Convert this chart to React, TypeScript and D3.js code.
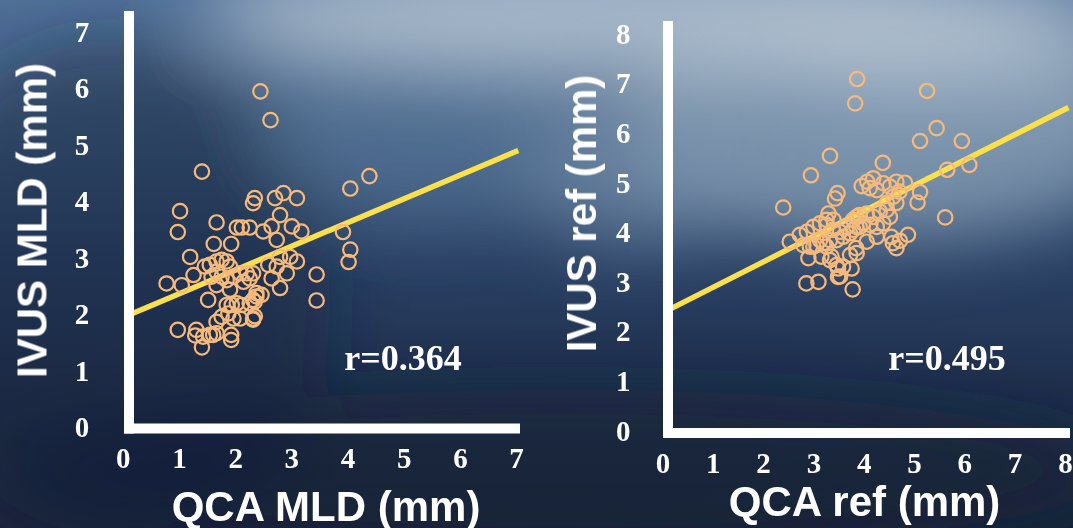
import React from "react";
import * as d3 from "d3";

const W = 1073;
const H = 528;

// left panel: QCA MLD vs IVUS MLD
const mldQca = [
  2.44, 2.62, 1.40, 4.38, 4.04, 1.01, 0.97, 3.91, 4.04, 4.01, 3.44, 3.44, 0.77, 0.97, 1.40,
  1.30, 1.28, 1.60, 1.92, 1.92, 2.31, 2.34, 1.66, 2.02, 2.11, 2.25, 2.31, 2.34, 2.49, 1.61,
  1.92, 1.19, 1.04, 1.25, 1.45, 1.54, 1.66, 1.75, 1.84, 1.90, 1.66, 1.75, 1.57, 1.66, 1.84,
  1.96, 2.08, 2.20, 2.25, 2.14, 1.90, 1.51, 1.84, 1.93, 2.02, 2.11, 2.25, 2.37, 2.46, 2.31,
  1.75, 1.87, 1.96, 2.08, 1.66, 1.54, 1.66, 1.42, 3.09, 2.85, 2.70, 2.79, 2.64, 2.73, 3.00,
  3.17, 2.79, 2.97, 3.09, 2.58, 2.73, 2.91, 2.64, 2.79, 2.31, 2.37, 2.34, 2.31,
];
const mldIvus = [
  5.95, 5.44, 4.53, 4.45, 4.23, 3.83, 3.46, 3.46, 3.15, 2.93, 2.71, 2.25, 2.55, 1.73, 1.42,
  1.73, 1.63, 1.64, 1.64, 1.55, 1.91, 1.97, 3.63, 3.54, 3.54, 3.54, 3.97, 4.06, 3.47, 3.25,
  3.25, 3.02, 2.52, 2.70, 2.85, 2.88, 2.94, 2.97, 2.94, 2.85, 2.76, 2.67, 2.67, 2.52, 2.61,
  2.67, 2.73, 2.73, 2.64, 2.58, 2.44, 2.26, 2.17, 2.17, 2.20, 2.17, 2.20, 2.32, 2.35, 2.26,
  1.96, 2.02, 1.93, 1.93, 1.87, 1.64, 1.67, 1.61, 4.06, 4.15, 4.06, 3.76, 3.56, 3.32, 3.56,
  3.47, 3.02, 3.02, 2.94, 2.88, 2.85, 2.73, 2.64, 2.47, 2.73, 2.38, 2.23, 1.93,
];

// right panel: QCA ref vs IVUS ref
const refQca = [
  3.86, 5.25, 3.82, 5.44, 5.11, 5.94, 3.32, 4.37, 2.94, 6.09, 5.65, 2.39, 5.61, 5.11, 5.06,
  3.47, 3.42, 3.95, 4.06, 4.18, 4.11, 4.25, 4.38, 4.51, 4.64, 4.81, 4.70, 4.58, 4.45, 4.64,
  3.29, 3.25, 2.52, 2.72, 2.86, 2.99, 3.12, 3.25, 3.38, 3.52, 3.65, 3.78, 3.91, 4.05, 4.18,
  4.31, 4.45, 4.51, 4.38, 4.25, 4.12, 3.98, 3.84, 3.72, 3.58, 3.45, 3.32, 3.19, 3.05, 2.92,
  2.79, 2.89, 3.15, 3.32, 3.45, 3.72, 3.84, 4.05, 4.25, 4.54, 4.57, 4.64, 4.87, 2.85, 3.09,
  3.48, 3.48, 3.75, 3.77, 3.39, 3.78, 3.91, 3.85, 2.99, 3.12, 3.25, 3.35, 3.58, 3.85, 3.52,
  4.71,
];
const refIvus = [
  7.09, 6.85, 6.60, 6.10, 5.84, 5.84, 5.54, 5.40, 5.15, 5.36, 5.26, 4.50, 4.30, 4.81, 4.60,
  4.79, 4.68, 4.93, 5.02, 5.09, 4.89, 4.85, 4.99, 4.92, 5.02, 5.00, 4.82, 4.72, 4.59, 4.59,
  4.38, 4.25, 3.81, 3.95, 4.01, 4.11, 4.18, 4.15, 4.05, 4.01, 4.11, 4.25, 4.35, 4.38, 4.31,
  4.42, 4.45, 4.31, 4.18, 4.11, 4.15, 4.18, 4.11, 3.98, 3.91, 3.84, 3.84, 3.78, 3.74, 3.71,
  3.74, 3.48, 3.51, 3.44, 3.34, 3.54, 3.68, 3.81, 3.91, 3.91, 3.78, 3.68, 3.95, 2.97, 3.00,
  3.10, 3.27, 3.27, 2.85, 4.25, 4.05, 4.11, 4.31, 3.71, 3.84, 3.71, 3.51, 3.31, 3.58, 3.11,
  3.83,
];

const mldTicks = [0, 1, 2, 3, 4, 5, 6, 7];
const refTicks = [0, 1, 2, 3, 4, 5, 6, 7, 8];

// fitted lines: [intercept, slope, x start, x end]
const mldFit = [1.95, 0.42, 0.1, 7.03];
const refFit = [2.38, 0.513, 0.1, 8.06];

interface PanelProps {
  xs: number[];
  ys: number[];
  ticks: number[];
  fit: number[];
  xRange: [number, number];
  yRange: [number, number];
  yLabelX: number;
  xLabelY: number;
  yAxisDx: number;
  xAxisDy: number;
  axisTop: number;
  axisEnd: number;
  xTitle: string;
  yTitle: string;
  xTitlePos: [number, number];
  yTitlePos: [number, number];
  rText: string;
  rPos: [number, number];
}

const Panel = (p: PanelProps) => {
  const max = p.ticks[p.ticks.length - 1];
  const x = d3.scaleLinear().domain([0, max]).range(p.xRange);
  const y = d3.scaleLinear().domain([0, max]).range(p.yRange);
  const ax = x(0) + p.yAxisDx;
  const ay = y(0) + p.xAxisDy;
  const [a, b, f0, f1] = p.fit;
  const fitLine = d3.line<number>().x((v) => x(v)).y((v) => y(a + b * v));

  return (
    <g>
      <path d={fitLine([f0, f1]) || ""} stroke="#fbe04c" strokeWidth={5.5} fill="none" />
      {p.xs.map((v, i) => (
        <circle key={i} cx={x(v)} cy={y(p.ys[i])} r={7.2} fill="none" stroke="#f6ba7c" strokeWidth={2.2} />
      ))}
      <line x1={ax} x2={ax} y1={p.axisTop} y2={ay + 5} stroke="#fff" strokeWidth={10} />
      <line x1={ax - 5} x2={p.axisEnd} y1={ay} y2={ay} stroke="#fff" strokeWidth={10} />
      <g fontFamily="'Liberation Serif', 'Times New Roman', serif" fontWeight="bold" fontSize={29} fill="#fff" textAnchor="middle">
        {p.ticks.map((t) => (
          <text key={"y" + t} x={p.yLabelX} y={y(t) + 9.8}>{t}</text>
        ))}
        {p.ticks.map((t) => (
          <text key={"x" + t} x={x(t)} y={p.xLabelY + 9.8}>{t}</text>
        ))}
        <text x={p.rPos[0]} y={p.rPos[1]} fontSize={36}>{p.rText}</text>
      </g>
      <g fontFamily="'Liberation Sans', Arial, sans-serif" fontWeight="bold" fontSize={42} fill="#fff" textAnchor="middle">
        <text x={p.xTitlePos[0]} y={p.xTitlePos[1]}>{p.xTitle}</text>
        <text transform={`translate(${p.yTitlePos[0]},${p.yTitlePos[1]}) rotate(-90)`}>{p.yTitle}</text>
      </g>
    </g>
  );
};

const App: React.FC = () => {
  return (
    <div style={{ position: "fixed", left: 0, top: 0, width: W, height: H, overflow: "hidden" }}>
      <svg width={W} height={H} style={{ display: "block" }}>
        <defs>
          <linearGradient id="sky" x1="0" y1="0" x2="0" y2="1">
            <stop offset="0%" stopColor="#52729a" />
            <stop offset="25%" stopColor="#3f5d81" />
            <stop offset="50%" stopColor="#2a4165" />
            <stop offset="75%" stopColor="#1f2f4c" />
            <stop offset="100%" stopColor="#18243c" />
          </linearGradient>
          <filter id="soft" x="-50%" y="-50%" width="200%" height="200%">
            <feGaussianBlur stdDeviation="35" />
          </filter>
        </defs>
        <rect width={W} height={H} fill="url(#sky)" />
        <g filter="url(#soft)">
          <ellipse cx={110} cy={300} rx={220} ry={260} fill="#15213a" opacity={0.45} />
          <ellipse cx={430} cy={110} rx={170} ry={110} fill="#5d7c9d" opacity={0.55} />
          <ellipse cx={880} cy={130} rx={270} ry={110} fill="#8ea4ba" opacity={0.75} />
          <ellipse cx={640} cy={175} rx={120} ry={70} fill="#7891ab" opacity={0.6} />
          <ellipse cx={640} cy={15} rx={440} ry={60} fill="#c3cfda" opacity={0.75} />
          <ellipse cx={950} cy={40} rx={200} ry={60} fill="#b0c0ce" opacity={0.6} />
          <ellipse cx={560} cy={470} rx={560} ry={80} fill="#141e33" opacity={0.5} />
        </g>
        <Panel
          xs={mldQca}
          ys={mldIvus}
          ticks={mldTicks}
          fit={mldFit}
          xRange={[123.3, 516.6]}
          yRange={[427.6, 32]}
          yLabelX={82}
          xLabelY={458}
          yAxisDx={5.7}
          xAxisDy={1}
          axisTop={11}
          axisEnd={520}
          xTitle="QCA MLD (mm)"
          yTitle="IVUS MLD (mm)"
          xTitlePos={[326, 521]}
          yTitlePos={[46.5, 220.5]}
          rText="r=0.364"
          rPos={[403, 370]}
        />
        <Panel
          xs={refQca}
          ys={refIvus}
          ticks={refTicks}
          fit={refFit}
          xRange={[663, 1065.4]}
          yRange={[430.7, 33.9]}
          yLabelX={623.3}
          xLabelY={463}
          yAxisDx={5}
          xAxisDy={2.3}
          axisTop={21}
          axisEnd={1070}
          xTitle="QCA ref (mm)"
          yTitle="IVUS ref (mm)"
          xTitlePos={[864.6, 516]}
          yTitlePos={[596, 213.5]}
          rText="r=0.495"
          rPos={[947, 370]}
        />
      </svg>
    </div>
  );
};

export default App;
